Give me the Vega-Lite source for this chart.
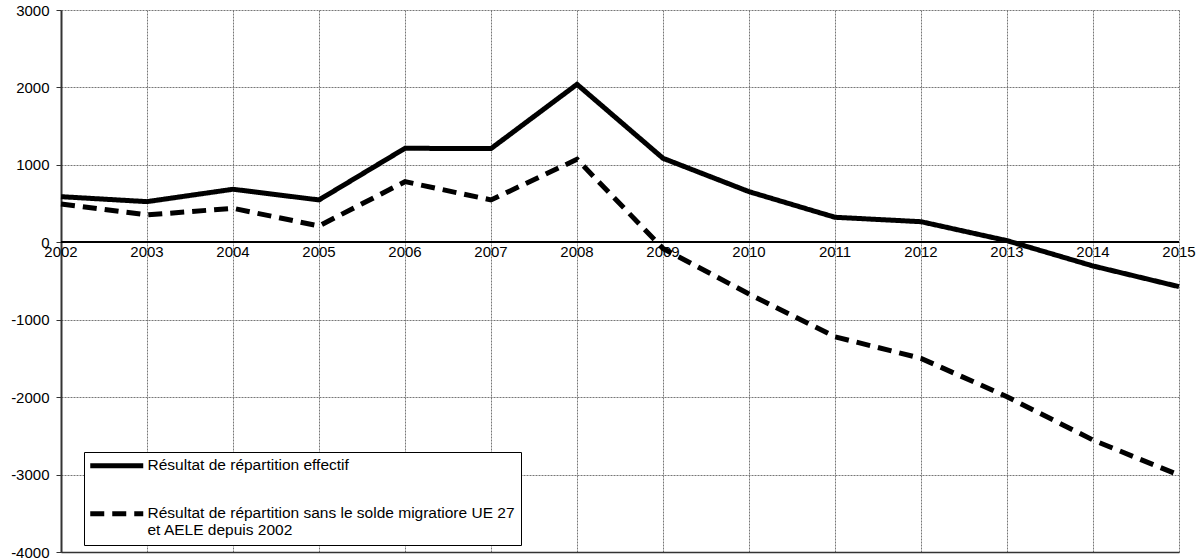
{
  "$schema": "https://vega.github.io/schema/vega-lite/v6.json",
  "autosize": "none",
  "width": 1118,
  "height": 542,
  "padding": {"left": 61, "top": 10, "right": 17, "bottom": 6},
  "background": "white",
  "config": {
    "view": {"stroke": null},
    "font": "Liberation Sans",
    "axis": {"labelFont": "Liberation Sans", "labelFontSize": 15, "labelColor": "black"}
  },
  "data": {
    "values": [
      {"annee": 2002, "valeur": 589, "serie": "Résultat de répartition effectif"},
      {"annee": 2003, "valeur": 525, "serie": "Résultat de répartition effectif"},
      {"annee": 2004, "valeur": 685, "serie": "Résultat de répartition effectif"},
      {"annee": 2005, "valeur": 547, "serie": "Résultat de répartition effectif"},
      {"annee": 2006, "valeur": 1214, "serie": "Résultat de répartition effectif"},
      {"annee": 2007, "valeur": 1210, "serie": "Résultat de répartition effectif"},
      {"annee": 2008, "valeur": 2040, "serie": "Résultat de répartition effectif"},
      {"annee": 2009, "valeur": 1085, "serie": "Résultat de répartition effectif"},
      {"annee": 2010, "valeur": 654, "serie": "Résultat de répartition effectif"},
      {"annee": 2011, "valeur": 323, "serie": "Résultat de répartition effectif"},
      {"annee": 2012, "valeur": 266, "serie": "Résultat de répartition effectif"},
      {"annee": 2013, "valeur": 21, "serie": "Résultat de répartition effectif"},
      {"annee": 2014, "valeur": -306, "serie": "Résultat de répartition effectif"},
      {"annee": 2015, "valeur": -573, "serie": "Résultat de répartition effectif"},
      {"annee": 2002, "valeur": 495, "serie": "Résultat de répartition sans le solde migratiore UE 27 et AELE depuis 2002"},
      {"annee": 2003, "valeur": 353, "serie": "Résultat de répartition sans le solde migratiore UE 27 et AELE depuis 2002"},
      {"annee": 2004, "valeur": 439, "serie": "Résultat de répartition sans le solde migratiore UE 27 et AELE depuis 2002"},
      {"annee": 2005, "valeur": 211, "serie": "Résultat de répartition sans le solde migratiore UE 27 et AELE depuis 2002"},
      {"annee": 2006, "valeur": 783, "serie": "Résultat de répartition sans le solde migratiore UE 27 et AELE depuis 2002"},
      {"annee": 2007, "valeur": 547, "serie": "Résultat de répartition sans le solde migratiore UE 27 et AELE depuis 2002"},
      {"annee": 2008, "valeur": 1072, "serie": "Résultat de répartition sans le solde migratiore UE 27 et AELE depuis 2002"},
      {"annee": 2009, "valeur": -80, "serie": "Résultat de répartition sans le solde migratiore UE 27 et AELE depuis 2002"},
      {"annee": 2010, "valeur": -668, "serie": "Résultat de répartition sans le solde migratiore UE 27 et AELE depuis 2002"},
      {"annee": 2011, "valeur": -1220, "serie": "Résultat de répartition sans le solde migratiore UE 27 et AELE depuis 2002"},
      {"annee": 2012, "valeur": -1499, "serie": "Résultat de répartition sans le solde migratiore UE 27 et AELE depuis 2002"},
      {"annee": 2013, "valeur": -1995, "serie": "Résultat de répartition sans le solde migratiore UE 27 et AELE depuis 2002"},
      {"annee": 2014, "valeur": -2554, "serie": "Résultat de répartition sans le solde migratiore UE 27 et AELE depuis 2002"},
      {"annee": 2015, "valeur": -3007, "serie": "Résultat de répartition sans le solde migratiore UE 27 et AELE depuis 2002"}
    ]
  },
  "layer": [
    {
      "mark": {"type": "rule", "color": "black", "strokeWidth": 1},
      "encoding": {"y": {"datum": 0, "type": "quantitative", "scale": {"domain": [-4000, 3000]}}}
    },
    {
      "mark": {"type": "line", "color": "black", "strokeWidth": 5, "strokeJoin": "miter"},
      "encoding": {
        "x": {
          "field": "annee", "type": "quantitative",
          "scale": {"domain": [2002, 2015], "nice": false, "zero": false},
          "axis": {
            "title": null, "labels": false, "ticks": false,
            "values": [2002, 2003, 2004, 2005, 2006, 2007, 2008, 2009, 2010, 2011, 2012, 2013, 2014, 2015],
            "grid": true, "gridColor": "#777777", "gridDash": [2, 1], "gridWidth": 1, "gridOpacity": 1,
            "domainColor": "#333333", "domainWidth": 1.5
          }
        },
        "y": {
          "field": "valeur", "type": "quantitative",
          "scale": {"domain": [-4000, 3000], "nice": false},
          "axis": {
            "title": null, "values": [-4000, -3000, -2000, -1000, 0, 1000, 2000, 3000],
            "labelExpr": "'' + datum.value",
            "grid": true, "gridColor": "#777777", "gridDash": [2, 1], "gridWidth": 1, "gridOpacity": 1,
            "domainColor": "#333333", "domainWidth": 2,
            "tickColor": "#333333", "tickSize": 5, "labelPadding": 7
          }
        },
        "strokeDash": {
          "field": "serie", "type": "nominal",
          "scale": {
            "domain": ["Résultat de répartition effectif", "Résultat de répartition sans le solde migratiore UE 27 et AELE depuis 2002"],
            "range": [[1, 0], [14, 8]]
          },
          "legend": {
            "title": null, "orient": "none", "legendX": 23, "legendY": 442,
            "direction": "vertical",
            "strokeColor": "black", "fillColor": "white", "padding": 6,
            "symbolType": "M-5.3,0H5.3", "symbolSize": 100, "symbolStrokeWidth": 5, "symbolStrokeColor": "black",
            "symbolFillColor": "transparent",
            "symbolOffset": 19,
            "labelFontSize": 15.5, "labelFont": "Liberation Sans", "labelColor": "black", "labelLimit": 500, "labelOffset": 23,
            "labelBaseline": "top", "rowPadding": 27,
            "encode": {
              "labels": {"update": {"dy": {"value": -8}}}
            },
            "labelExpr": "datum.label == 'Résultat de répartition effectif' ? datum.label : ['Résultat de répartition sans le solde migratiore UE 27', 'et AELE depuis 2002']"
          }
        }
      }
    },
    {
      "transform": [{"filter": "datum.serie == 'Résultat de répartition effectif'"}],
      "mark": {"type": "text", "baseline": "top", "align": "center", "dy": 3, "fontSize": 15, "color": "black"},
      "encoding": {
        "x": {"field": "annee", "type": "quantitative"},
        "y": {"datum": 0, "type": "quantitative"},
        "text": {"field": "annee", "type": "quantitative", "format": "d"}
      }
    }
  ]
}
